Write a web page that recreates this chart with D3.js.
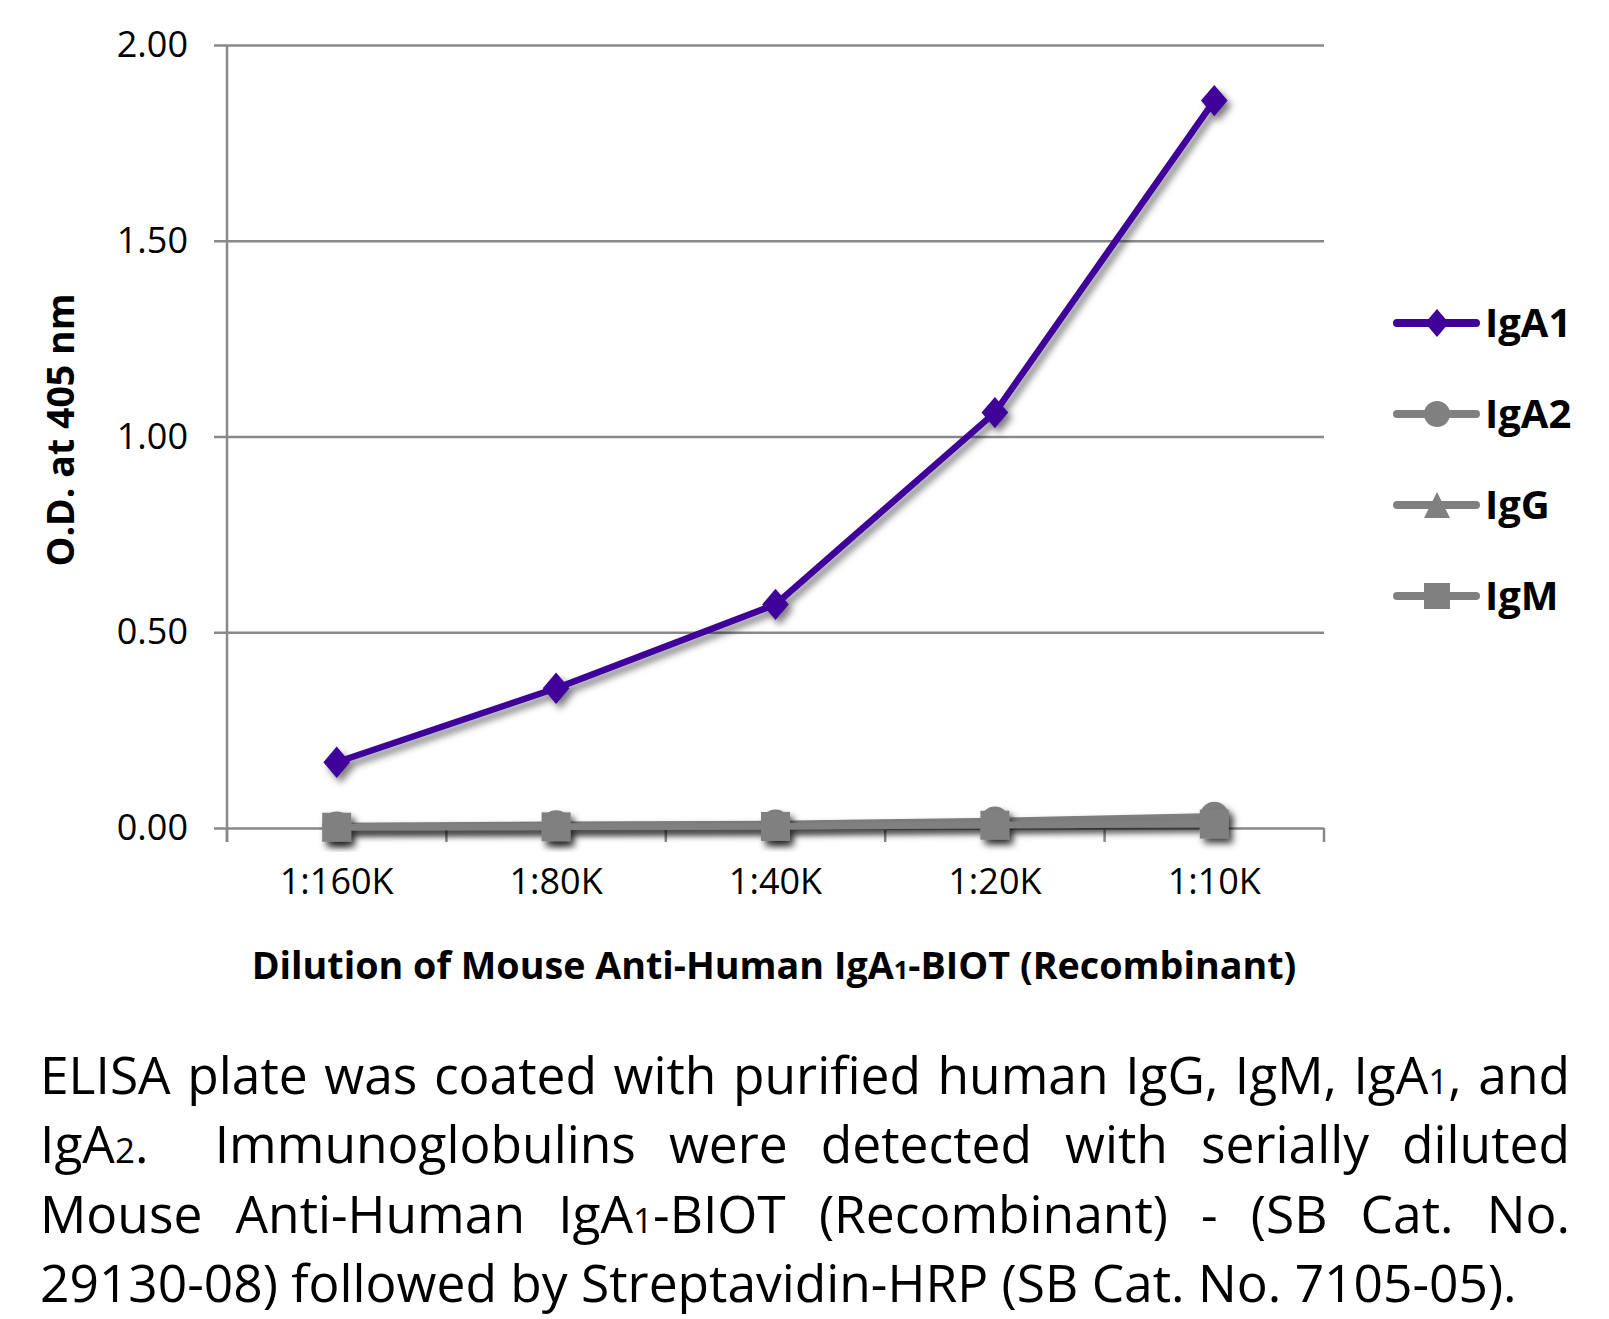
<!DOCTYPE html>
<html>
<head>
<meta charset="utf-8">
<script src="https://cdn.jsdelivr.net/npm/d3@7"></script>
<style>
  html, body { margin: 0; padding: 0; background: #fff; }
  svg { display: block; }
  text { font-family: "Open Sans", "Noto Sans", sans-serif; fill: #000; }
</style>
</head>
<body>
<script>
// ---------- data ----------
const categories = ["1:160K", "1:80K", "1:40K", "1:20K", "1:10K"];
const seriesNames = ["IgA1", "IgA2", "IgG", "IgM"];
const igA1 = [0.168, 0.357, 0.571, 1.061, 1.858];
const igA2 = [0.005, 0.008, 0.010, 0.018, 0.030];
const igG  = [0.003, 0.004, 0.006, 0.011, 0.016];
const igM  = [0.002, 0.003, 0.004, 0.007, 0.010];
const yTicks = [0, 0.5, 1.0, 1.5, 2.0];
const yTitle = "O.D. at 405 nm";
const xTitle = "Dilution of Mouse Anti-Human IgA_1-BIOT (Recombinant)";
const captionLines = [
  "ELISA plate was coated with purified human IgG, IgM, IgA_1, and",
  "IgA_2.  Immunoglobulins were detected with serially diluted",
  "Mouse Anti-Human IgA_1-BIOT (Recombinant) - (SB Cat. No.",
  "29130-08) followed by Streptavidin-HRP (SB Cat. No. 7105-05)."
];

// ---------- layout ----------
const W = 1609, H = 1319;
const plot = { left: 227, right: 1324, top: 45, bottom: 828 };
const purple = "#40009A", gray = "#808080", gridCol = "#898989";

const svg = d3.select("body").append("svg").attr("width", W).attr("height", H);
svg.append("rect").attr("width", W).attr("height", H).attr("fill", "#fff");

const defs = svg.append("defs");
const f = defs.append("filter").attr("id", "shadow")
  .attr("x", "-30%").attr("y", "-30%").attr("width", "160%").attr("height", "160%");
f.append("feDropShadow").attr("dx", 4).attr("dy", 5).attr("stdDeviation", 3.5)
  .attr("flood-color", "#000").attr("flood-opacity", 0.5);

const x = d3.scaleBand().domain(categories).range([plot.left, plot.right]).padding(0);
const y = d3.scaleLinear().domain([0, 2]).range([plot.bottom, plot.top]);

// gridlines + y labels
const yAxis = d3.axisLeft(y).tickValues(yTicks).tickFormat(d3.format(".2f"))
  .tickSize(-(plot.right - plot.left)).tickPadding(39);
const gy = svg.append("g").attr("transform", `translate(${plot.left},0)`).call(yAxis);
gy.select(".domain").remove();
gy.selectAll(".tick line").attr("stroke", gridCol).attr("stroke-width", 2.5).attr("x1", -13);
gy.selectAll(".tick text").attr("font-size", 36).attr("fill", "#000")
  .attr("font-family", "Open Sans");

// y axis line
svg.append("line").attr("x1", plot.left).attr("x2", plot.left)
  .attr("y1", plot.top).attr("y2", plot.bottom + 14)
  .attr("stroke", gridCol).attr("stroke-width", 2.5);

// x axis: ticks at category boundaries
const bounds = categories.map(c => x(c)).concat([x(categories[categories.length - 1]) + x.bandwidth()]);
svg.append("g").selectAll("line").data(bounds).join("line")
  .attr("x1", d => d).attr("x2", d => d).attr("y1", plot.bottom).attr("y2", plot.bottom + 14)
  .attr("stroke", gridCol).attr("stroke-width", 2.5);
svg.append("g").selectAll("text").data(categories).join("text")
  .attr("x", d => x(d) + x.bandwidth() / 2).attr("y", 881).attr("dy", "0.35em")
  .attr("text-anchor", "middle").attr("font-size", 36).text(d => d);

// ---------- symbols ----------
function symPath(kind, s) {
  const p = d3.path(), h = s / 2;
  if (kind === "diamond") {
    p.moveTo(0, -h * 1.08); p.lineTo(h * 0.92, 0); p.lineTo(0, h * 1.08); p.lineTo(-h * 0.92, 0); p.closePath();
  } else if (kind === "circle") {
    p.arc(0, 0, h, 0, 2 * Math.PI);
  } else if (kind === "triangle") {
    p.moveTo(0, -h); p.lineTo(h, h); p.lineTo(-h, h); p.closePath();
  } else {
    p.rect(-h, -h, s, s);
  }
  return p.toString();
}

const series = [
  { name: "IgA1", values: igA1, color: purple, sym: "diamond" },
  { name: "IgA2", values: igA2, color: gray, sym: "circle" },
  { name: "IgG",  values: igG,  color: gray, sym: "triangle" },
  { name: "IgM",  values: igM,  color: gray, sym: "square" }
];

const line = d3.line().x((d, i) => x(categories[i]) + x.bandwidth() / 2).y(d => y(d));
const drawOrder = [series[1], series[2], series[3], series[0]];
drawOrder.forEach(s => {
  const g = svg.append("g").attr("filter", "url(#shadow)");
  g.append("path").datum(s.values).attr("d", line).attr("fill", "none")
    .attr("stroke", s.color).attr("stroke-width", 6.5)
    .attr("stroke-linejoin", "round").attr("stroke-linecap", "round");
  g.selectAll("path.m").data(s.values).join("path").attr("class", "m")
    .attr("transform", (d, i) => `translate(${x(categories[i]) + x.bandwidth() / 2},${y(d)})`)
    .attr("d", symPath(s.sym, 29)).attr("fill", s.color);
});

// ---------- legend ----------
const legendY = [323, 414, 505, 596];
series.forEach((s, i) => {
  const g = svg.append("g").attr("transform", `translate(0,${legendY[i]})`);
  g.append("line").attr("x1", 1397).attr("x2", 1476).attr("y1", 0).attr("y2", 0)
    .attr("stroke", s.color).attr("stroke-width", 8).attr("stroke-linecap", "round");
  g.append("path").attr("transform", "translate(1437,0)").attr("d", symPath(s.sym, 26)).attr("fill", s.color);
  g.append("text").attr("x", 1485).attr("y", 0).attr("dy", "0.36em")
    .attr("font-size", 40).attr("font-weight", 700).text(s.name);
});

// ---------- titles ----------
function addRich(textSel, str, smallScale) {
  str.split(/(_\d)/).forEach(part => {
    if (!part) return;
    if (part[0] === "_") textSel.append("tspan").attr("font-size", (smallScale * 100) + "%").text(part.slice(1));
    else textSel.append("tspan").text(part);
  });
  return textSel;
}

svg.append("text").attr("transform", "translate(60,430) rotate(-90)").attr("dy", "0.36em")
  .attr("text-anchor", "middle").attr("font-size", 37.5).attr("font-weight", 700).text(yTitle);

addRich(svg.append("text").attr("x", 774).attr("y", 979).attr("text-anchor", "middle")
  .attr("font-size", 37.7).attr("font-weight", 700), xTitle, 0.68);

// ---------- caption (justified) ----------
const capX0 = 40, capX1 = 1570, capBase = [1094, 1163, 1233, 1302], capSize = 51.5;
captionLines.forEach((ln, li) => {
  const words = ln.split(/( +)/);
  const items = [];
  let gapW = 0;
  words.forEach(w => {
    if (/^ +$/.test(w)) { gapW = w.length; return; }
    items.push({ w, gap: items.length ? gapW : 0 });
    gapW = 0;
  });
  const g = svg.append("g");
  items.forEach(it => {
    it.el = addRich(g.append("text").attr("y", capBase[li]).attr("font-size", capSize), it.w, 0.68);
    it.width = it.el.node().getComputedTextLength();
  });
  const spaceW = capSize * 0.26;
  const total = d3.sum(items, d => d.width);
  const gapUnits = d3.sum(items, d => d.gap);
  const justify = li < captionLines.length - 1;
  const unit = justify ? Math.max(capSize * 0.12, (capX1 - capX0 - total) / gapUnits) : spaceW;
  let cx = capX0;
  items.forEach(it => {
    cx += it.gap * unit;
    it.el.attr("x", cx);
    cx += it.width;
  });
});
</script>
</body>
</html>
